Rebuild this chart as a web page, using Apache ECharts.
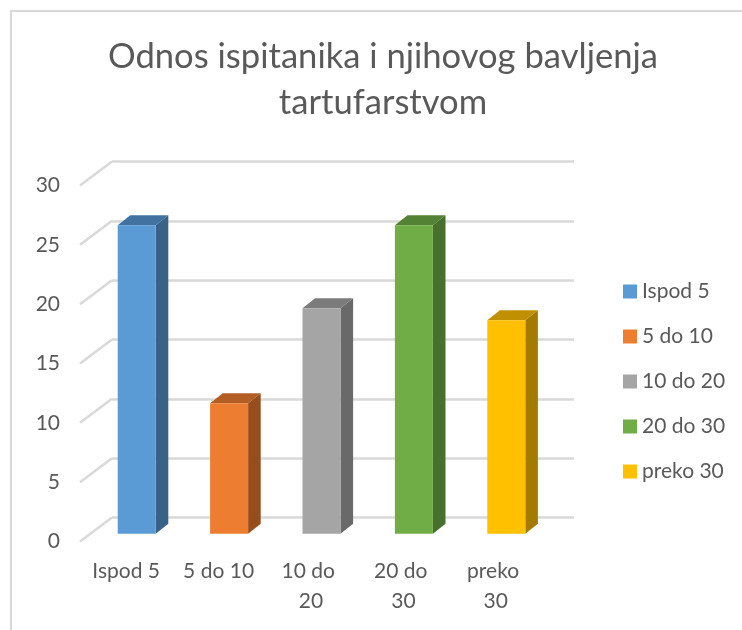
<!DOCTYPE html>
<html>
<head>
<meta charset="utf-8">
<style>
  html, body { margin: 0; padding: 0; background: #fff; }
  #chart { width: 742px; height: 630px; }
</style>
<script src="https://cdn.jsdelivr.net/npm/echarts@6/dist/echarts.min.js"></script>
</head>
<body>
<div id="chart"></div>
<script>
const titleText = 'Odnos ispitanika i njihovog bavljenja\ntartufarstvom'
const categories = ['Ispod 5', '5 do 10', '10 do 20', '20 do 30', 'preko 30']
const values = [26, 11, 19, 26, 18]
const yTicks = [0, 5, 10, 15, 20, 25, 30]
const frontColors = ['#5B9BD5', '#ED7D31', '#A5A5A5', '#70AD47', '#FFC000']
const sideColors = ['#386288', '#974E1C', '#696969', '#48702D', '#A37B00']
const topColors = ['#4273A0', '#B25E25', '#7C7C7C', '#548235', '#C09000']

// offsets of the fake 3d box, in px
const wallDx = 32
const wallDy = -24
const barDx = 10.5
const barDy = -7.7
const barWidth = 38
const sideDx = 12.6
const sideDy = -10

const textColor = '#595959'
const fontFamily = 'Lato'

function renderBar(index) {
  return (params, api) => {
    const top = api.coord([api.value(0), api.value(1)])
    const bottom = api.coord([api.value(0), 0])
    const x0 = top[0] + barDx - barWidth / 2
    const x1 = x0 + barWidth
    const y0 = top[1] + barDy
    const y1 = bottom[1] + barDy
    return {
      type: 'group',
      children: [
        {
          type: 'polygon',
          shape: { points: [[x1, y0], [x1 + sideDx, y0 + sideDy], [x1 + sideDx, y1 + sideDy], [x1, y1]] },
          style: { fill: sideColors[index] },
        },
        {
          type: 'polygon',
          shape: { points: [[x0, y0], [x0 + sideDx, y0 + sideDy], [x1 + sideDx, y0 + sideDy], [x1, y0]] },
          style: { fill: topColors[index] },
        },
        {
          type: 'rect',
          shape: { x: x0, y: y0, width: barWidth, height: y1 - y0 },
          style: { fill: frontColors[index] },
        },
      ],
    }
  }
}

// slanted wall lines, front plane to back plane
function renderSlant(params, api) {
  const p = api.coord([0, api.value(0)])
  const x = params.coordSys.x
  return {
    type: 'line',
    shape: { x1: x, y1: p[1], x2: x + wallDx, y2: p[1] + wallDy },
    style: { stroke: '#D9D9D9', lineWidth: 2.5 },
  }
}

const chart = echarts.init(document.getElementById('chart'))

chart.setOption({
  animation: false,
  backgroundColor: '#fff',
  graphic: [
    {
      type: 'polyline',
      shape: { points: [[11, 630], [11, 11], [742, 11]] },
      style: { stroke: '#D9D9D9', lineWidth: 2, fill: null },
    },
  ],
  title: {
    text: titleText,
    left: 378,
    top: 29,
    textAlign: 'center',
    textStyle: {
      color: textColor,
      fontFamily: fontFamily,
      fontWeight: 'normal',
      fontSize: 34.6,
      lineHeight: 46,
    },
  },
  legend: {
    data: categories,
    orient: 'vertical',
    left: 618,
    top: 276,
    icon: 'rect',
    itemWidth: 14,
    itemHeight: 14,
    itemGap: 24,
    textStyle: { color: textColor, fontFamily: fontFamily, fontSize: 21, lineHeight: 14, padding: [0, 0, 0, 0] },
    selectedMode: false,
  },
  grid: [
    // front plane: tick labels, categories, bars
    { left: 80, top: 185.5, width: 462, height: 356 },
    // back plane: horizontal gridlines
    { left: 80 + wallDx, top: 185.5 + wallDy, width: 462, height: 356 },
  ],
  xAxis: [
    {
      gridIndex: 0,
      type: 'category',
      data: categories,
      axisLine: { show: false },
      axisTick: { show: false },
      axisLabel: {
        interval: 0,
        color: textColor,
        fontFamily: fontFamily,
        fontSize: 21,
        lineHeight: 30,
        margin: 15,
        width: 76,
        overflow: 'break',
      },
    },
    {
      gridIndex: 1,
      type: 'category',
      data: categories,
      axisLine: { show: false },
      axisTick: { show: false },
      axisLabel: { show: false },
    },
  ],
  yAxis: [
    {
      gridIndex: 0,
      type: 'value',
      min: yTicks[0],
      max: yTicks[yTicks.length - 1],
      interval: 5,
      axisLine: { show: false },
      axisTick: { show: false },
      splitLine: { show: false },
      axisLabel: { color: textColor, fontFamily: fontFamily, fontSize: 21, margin: 20, padding: [4, 0, 0, 0] },
    },
    {
      gridIndex: 1,
      type: 'value',
      min: yTicks[0],
      max: yTicks[yTicks.length - 1],
      interval: 5,
      axisLine: { show: false },
      axisTick: { show: false },
      axisLabel: { show: false },
      splitLine: { show: true, lineStyle: { color: '#D9D9D9', width: 2.5 } },
    },
  ],
  series: [
    {
      name: 'zid',
      type: 'custom',
      xAxisIndex: 0,
      yAxisIndex: 0,
      silent: true,
      data: yTicks.map((t) => [t]),
      encode: { y: 0 },
      renderItem: renderSlant,
      z: 1,
    },
    ...categories.map((name, i) => ({
      name: name,
      type: 'custom',
      xAxisIndex: 0,
      yAxisIndex: 0,
      itemStyle: { color: frontColors[i] },
      data: [[i, values[i]]],
      encode: { x: 0, y: 1 },
      renderItem: renderBar(i),
      z: 3,
    })),
  ],
})
</script>
</body>
</html>
